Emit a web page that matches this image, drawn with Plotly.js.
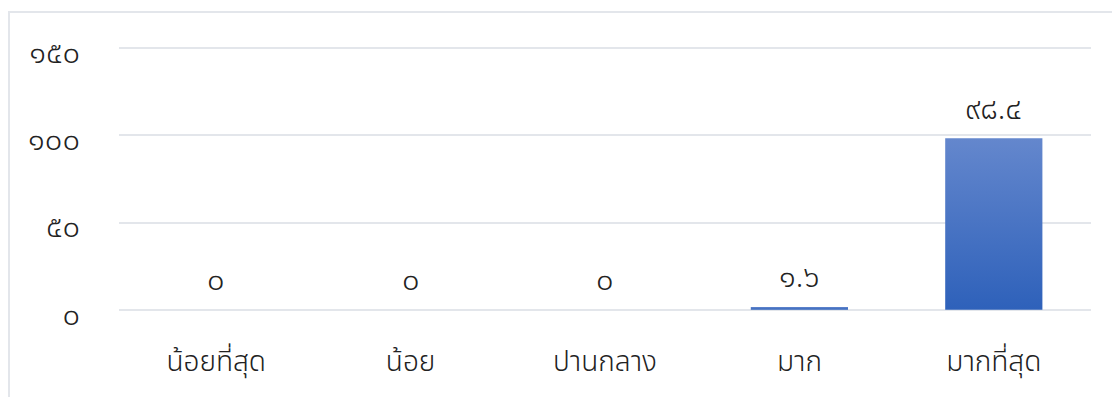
<!DOCTYPE html>
<html>
<head>
<meta charset="utf-8">
<script src="https://cdn.plot.ly/plotly-3.0.1.min.js"></script>
<style>
  html, body { margin: 0; padding: 0; background: #fff; }
  #frame {
    position: absolute; left: 8px; top: 11px; right: 0; bottom: 0;
    border-top: 2px solid #e3e6eb; border-left: 2px solid #e3e6eb;
  }
  #chart { position: absolute; left: 0; top: 0; width: 1112px; height: 397px; }
</style>
</head>
<body>
<div id="frame"></div>
<div id="chart"></div>
<script>
// Response levels and their percentages
const categories = ['น้อยที่สุด', 'น้อย', 'ปานกลาง', 'มาก', 'มากที่สุด'];
const percentages = [0, 0, 0, 1.6, 98.4];
const yTickValues = [0, 50, 100, 150];

// Render a number with Thai digits
const THAI_DIGITS = '๐๑๒๓๔๕๖๗๘๙';
function toThai(n) {
  return String(n).replace(/[0-9]/g, d => THAI_DIGITS[+d]);
}

const FONT = 'Noto Sans Thai, Noto Sans, Tahoma, sans-serif';

const trace = {
  type: 'bar',
  x: categories,
  y: percentages,
  width: 0.5,
  marker: { color: '#4472c4', line: { width: 0 } },
  hoverinfo: 'none'
};

const labels = categories.map((c, i) => ({
  x: c, y: percentages[i], xref: 'x', yref: 'y',
  text: toThai(percentages[i]), showarrow: false,
  yanchor: 'middle', yshift: 29,
  font: { family: FONT, size: 31, weight: 300, color: '#222' }
}));

const layout = {
  width: 1112, height: 397,
  margin: { l: 119, r: 21, t: 43, b: 82 },
  paper_bgcolor: 'rgba(0,0,0,0)',
  plot_bgcolor: 'rgba(0,0,0,0)',
  showlegend: false,
  bargap: 0.5,
  xaxis: {
    showgrid: false, zeroline: false, showline: false,
    ticks: 'outside', ticklen: 0, ticklabelstandoff: 21,
    tickfont: { family: FONT, size: 28, weight: 300, color: '#222' }
  },
  yaxis: {
    range: [-3, 153], fixedrange: true,
    tickvals: yTickValues, ticktext: yTickValues.map(toThai),
    showgrid: true, gridcolor: '#e3e6eb', gridwidth: 2,
    zeroline: false, showline: false,
    ticklabelstandoff: 38, ticklabelshift: 4,
    tickfont: { family: FONT, size: 31, weight: 300, color: '#222' }
  },
  annotations: labels
};

Plotly.newPlot('chart', [trace], layout, { staticPlot: true }).then(gd => {
  // Vertical gradient fill on the bars
  const svg = gd.querySelector('svg.main-svg');
  const ns = 'http://www.w3.org/2000/svg';
  let defs = svg.querySelector('defs');
  if (!defs) { defs = document.createElementNS(ns, 'defs'); svg.prepend(defs); }
  const grad = document.createElementNS(ns, 'linearGradient');
  grad.setAttribute('id', 'barGrad');
  grad.setAttribute('x1', '0'); grad.setAttribute('y1', '0');
  grad.setAttribute('x2', '0'); grad.setAttribute('y2', '1');
  [['0', '#6487cd'], ['1', '#2e61ba']].forEach(([off, col]) => {
    const s = document.createElementNS(ns, 'stop');
    s.setAttribute('offset', off); s.setAttribute('stop-color', col);
    grad.appendChild(s);
  });
  defs.appendChild(grad);
  gd.querySelectorAll('.barlayer .point path').forEach(p => {
    p.style.fill = 'url(#barGrad)';
  });
});
</script>
</body>
</html>
